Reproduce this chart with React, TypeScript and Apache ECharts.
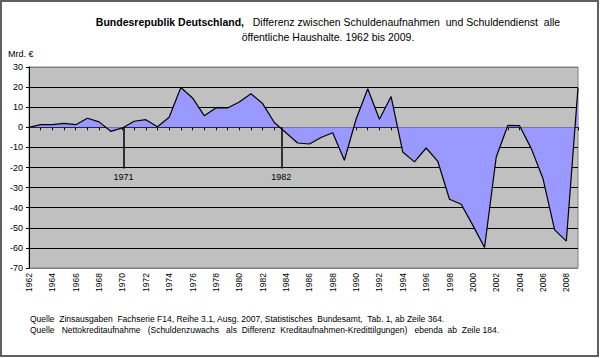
import React, { useEffect, useRef } from "react";
import * as echarts from "echarts";

const years: number[] = [
  1962, 1963, 1964, 1965, 1966, 1967, 1968, 1969, 1970, 1971, 1972, 1973,
  1974, 1975, 1976, 1977, 1978, 1979, 1980, 1981, 1982, 1983, 1984, 1985,
  1986, 1987, 1988, 1989, 1990, 1991, 1992, 1993, 1994, 1995, 1996, 1997,
  1998, 1999, 2000, 2001, 2002, 2003, 2004, 2005, 2006, 2007, 2008, 2009,
];

const differenz: number[] = [
  0, 1.3, 1.3, 2.0, 1.3, 4.5, 2.7, -2.0, -0.3, 3.0, 3.8, 0.3,
  5.0, 19.8, 14.6, 5.8, 9.6, 9.6, 12.6, 16.7, 11.8, 2.4, -2.7, -7.8,
  -8.3, -5.1, -2.7, -16.4, 4.0, 19.2, 4.0, 15.3, -12.3, -17.2, -10.3, -17.0,
  -35.8, -38.3, -48.8, -59.8, -14.8, 1.0, 0.8, -10.6, -25.5, -51.0, -56.6, 19.6,
];

const annotations = [
  { x: 1970.1, yEnd: -20.5, label: "1971" },
  { x: 1983.6, yEnd: -20.5, label: "1982" },
];

const titleBold = "Bundesrepublik Deutschland,";
const titleRest = "   Differenz zwischen Schuldenaufnahmen  und Schuldendienst  alle";
const titleLine2 = "öffentliche Haushalte. 1962 bis 2009.";
const unitLabel = "Mrd. €";
const footnotes = [
  "Quelle  Zinsausgaben  Fachserie F14, Reihe 3.1, Ausg. 2007, Statistisches  Bundesamt,  Tab. 1, ab Zeile 364.",
  "Quelle   Nettokreditaufnahme   (Schuldenzuwachs   als  Differenz  Kreditaufnahmen-Kredittilgungen)   ebenda  ab  Zeile 184.",
];

const FONT = "'Liberation Sans', Arial, sans-serif";

export default function App() {
  const ref = useRef<HTMLDivElement>(null);

  useEffect(() => {
    document.body.style.margin = "0";
    if (!ref.current) return;
    const chart = echarts.init(ref.current, null, { renderer: "svg" });

    const seriesData = years.map((y, i) => [y, differenz[i]]);

    const option: any = {
      animation: false,
      backgroundColor: "#ffffff",
      textStyle: { fontFamily: FONT },
      grid: {
        left: 29,
        right: 22,
        top: 67,
        bottom: 90,
        show: true,
        backgroundColor: "#c0c0c0",
        borderColor: "#808080",
        borderWidth: 1,
      },
      xAxis: [
        {
          type: "value",
          min: 1962,
          max: 2009,
          interval: 1,
          axisLine: { show: true, onZero: true, lineStyle: { color: "#000", width: 1 } },
          axisTick: { show: true, length: 3, lineStyle: { color: "#000" } },
          axisLabel: { show: false },
          splitLine: { show: false },
        },
        {
          type: "value",
          position: "bottom",
          min: 1962,
          max: 2009,
          interval: 2,
          axisLine: { show: false, onZero: false },
          axisTick: { show: false },
          splitLine: { show: false },
          axisLabel: {
            show: true,
            rotate: 90,
            margin: 5,
            fontSize: 8.5,
            color: "#000",
            fontFamily: FONT,
            showMaxLabel: false,
            formatter: (v: number) => String(v),
          },
        },
      ],
      yAxis: {
        type: "value",
        min: -70,
        max: 30,
        interval: 10,
        axisLine: { show: true, lineStyle: { color: "#000", width: 1 } },
        axisTick: { show: true, inside: false, length: 3, lineStyle: { color: "#000" } },
        axisLabel: { fontSize: 9, color: "#000", margin: 6, fontFamily: FONT },
        splitLine: {
          show: true,
          lineStyle: {
            color: ["#808080", "#000", "#000", "#000", "#000", "#000", "#000", "#000", "#000", "#000", "#808080"],
            width: 1,
          },
        },
      },
      series: [
        {
          type: "line",
          xAxisIndex: 0,
          data: seriesData,
          symbol: "none",
          lineStyle: { color: "#000", width: 1.2 },
          areaStyle: { color: "#9999ff", opacity: 1 },
          z: 3,
          markLine: {
            silent: true,
            symbol: "none",
            lineStyle: { color: "#000", width: 1.5, type: "solid" },
            label: {
              show: true,
              position: "end",
              distance: 4,
              fontSize: 9,
              color: "#000",
              fontFamily: FONT,
              formatter: (p: any) => p.name,
            },
            data: annotations.map((a) => [
              { name: a.label, coord: [a.x, 0] },
              { coord: [a.x, a.yEnd] },
            ]),
          },
        },
      ],
      graphic: [
        {
          type: "rect",
          shape: { x: 1, y: 1, width: 597, height: 355 },
          style: { fill: "none", stroke: "#606060", lineWidth: 2 },
          silent: true,
          z: 100,
        },
        {
          type: "text",
          x: 328,
          y: 22,
          style: {
            text: `{b|${titleBold}}${titleRest}`,
            align: "center",
            verticalAlign: "middle",
            fontSize: 10.5,
            fontFamily: FONT,
            fill: "#000",
            rich: {
              b: { fontWeight: "bold", fontSize: 10.5, fontFamily: FONT, fill: "#000" },
            },
          },
        },
        {
          type: "text",
          x: 328,
          y: 37,
          style: {
            text: titleLine2,
            align: "center",
            verticalAlign: "middle",
            fontSize: 10.5,
            fontFamily: FONT,
            fill: "#000",
          },
        },
        {
          type: "text",
          x: 8,
          y: 54,
          style: {
            text: unitLabel,
            align: "left",
            verticalAlign: "middle",
            fontSize: 9,
            fontFamily: FONT,
            fill: "#000",
          },
        },
        ...footnotes.map((t, i) => ({
          type: "text",
          x: 30,
          y: 319 + i * 11,
          style: {
            text: t,
            align: "left",
            verticalAlign: "middle",
            fontSize: 8.5,
            fontFamily: FONT,
            fill: "#000",
          },
        })),
      ],
    };

    chart.setOption(option);
    return () => chart.dispose();
  }, []);

  return <div ref={ref} style={{ width: 600, height: 358 }} />;
}
